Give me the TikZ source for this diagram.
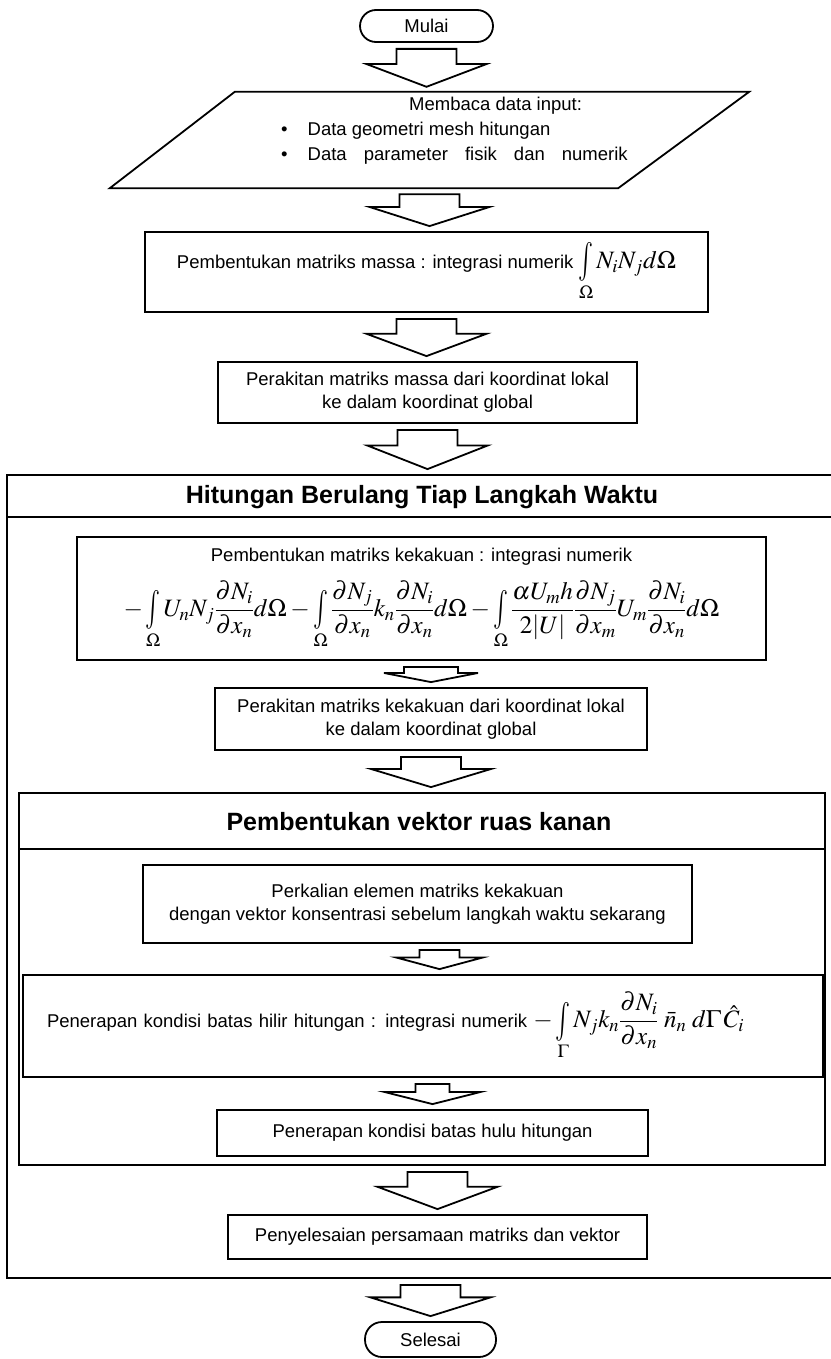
\documentclass[tikz,border=0pt]{standalone}
\usepackage{amsmath}
\usepackage{graphicx}
\usepackage{mathptmx}
\usepackage[no-math]{fontspec}
\setmainfont{Liberation Sans}
\usepackage{tikz}
\usetikzlibrary{calc}

\newcommand{\teks}{\fontsize{18.5}{23}\selectfont}
\newcommand{\judul}{\fontsize{25}{30}\selectfont\bfseries}
\newcommand{\rumus}{\fontsize{25}{30}\selectfont}
% integral ramping dengan batas di bawah
\newcommand{\intg}{\mathop{\vcenter{\hbox{\scalebox{1}[1.55]{$\int$}}}}\limits}

\tikzset{
  kotak/.style={draw,line width=1.8pt,align=center,font=\teks,inner sep=0pt},
  ujung/.style={kotak,rounded corners=16pt},
  bingkai/.style={draw,line width=1.8pt,inner sep=0pt},
  blok/.style={draw,line width=1.8pt,fill=white,line join=miter},
}

% panah blok: #1 dari, #2 ke, #3 setengah lebar batang, #4 setengah lebar kepala
\newcommand{\panah}[4]{%
  \draw[blok] let \p1=(#1), \p2=(#2) in
    (\x1-#3pt,\y1-6pt) -- (\x1+#3pt,\y1-6pt) -- (\x1+#3pt,{0.6*(\y1)+0.4*(\y2)-1.6pt})
    -- (\x1+#4pt,{0.6*(\y1)+0.4*(\y2)-1.6pt}) -- (\x1,\y2+5pt)
    -- (\x1-#4pt,{0.6*(\y1)+0.4*(\y2)-1.6pt}) -- (\x1-#3pt,{0.6*(\y1)+0.4*(\y2)-1.6pt}) -- cycle;}

\begin{document}
\begin{tikzpicture}[x=1pt,y=-1pt]
	\useasboundingbox (0,0) rectangle (830,1359);
	\fill[white] (0,0) rectangle (830,1359);
	
	\node[ujung,minimum width=133pt,minimum height=32pt] (mulai) at (426.5,26) {Mulai};
	
	% jajaran genjang input
	\node[inner sep=0pt,minimum width=639pt,minimum height=96pt] (baca) at (429.5,140) {};
	\draw[line width=1.8pt] ([xshift=125pt]baca.north west) -- (baca.north east)
	  -- ([xshift=-131pt]baca.south east) -- (baca.south west) -- cycle;
	\node[font={\fontsize{18.5}{25}\selectfont},align=left,anchor=west,inner sep=0pt] (isibaca) at (281,131)
	  {\hspace*{128pt}Membaca data input:\\
	   \textbullet\hspace{20pt}Data geometri mesh hitungan\\
	   \textbullet\hspace{20pt}\makebox[320pt][s]{Data parameter fisik dan numerik}};
	
	\node[kotak,minimum width=563pt,minimum height=80pt] (massa) at (426.5,272)
	  {Pembentukan matriks massa : integrasi numerik \rumus$\intg_{\Omega} N_i N_j d\Omega$};
	
	\node[kotak,minimum width=419pt,minimum height=61pt] (pm) at (427.5,392.5)
	  {Perakitan matriks massa dari koordinat lokal\\ke dalam koordinat global};
	
	% hitungan berulang
	\node[bingkai,minimum width=838pt,minimum height=803pt] (luar) at (426,876.5) {};
	\draw[line width=1.8pt] ([yshift=-43pt]luar.north west) -- ([yshift=-43pt]luar.north east);
	\node[font=\judul] (judul1) at (422,497) {Hitungan Berulang Tiap Langkah Waktu};
	
	\node[kotak,minimum width=689pt,minimum height=123pt] (kk) at (421.5,598.5)
	  {Pembentukan matriks kekakuan : integrasi numerik\\[14pt]
	   \rumus$\displaystyle -\intg_\Omega U_n N_j \frac{\partial N_i}{\partial x_n} d\Omega
	   - \intg_\Omega \frac{\partial N_j}{\partial x_n} k_n \frac{\partial N_i}{\partial x_n} d\Omega
	   - \intg_\Omega \frac{\alpha U_m h}{2|U|} \frac{\partial N_j}{\partial x_m} U_m \frac{\partial N_i}{\partial x_n} d\Omega$};
	
	\node[kotak,minimum width=432pt,minimum height=62pt] (pk) at (431,719)
	  {Perakitan matriks kekakuan dari koordinat lokal\\ke dalam koordinat global};
	
	% vektor ruas kanan
	\node[bingkai,minimum width=806pt,minimum height=372pt] (vektor) at (422,979) {};
	\draw[line width=1.8pt] ([yshift=-57pt]vektor.north west) -- ([yshift=-57pt]vektor.north east);
	\node[font=\judul] (judul2) at (419,821.5) {Pembentukan vektor ruas kanan};
	
	\node[kotak,minimum width=549pt,minimum height=78pt] (kali) at (417.5,904)
	  {Perkalian elemen matriks kekakuan\\dengan vektor konsentrasi sebelum langkah waktu sekarang};
	
	\node[kotak,minimum width=800pt,minimum height=102pt,text width=752pt,align=left] (hilir) at (423,1026)
	  {Penerapan kondisi batas hilir hitungan : integrasi numerik \rumus$\displaystyle -\intg_\Gamma N_j k_n \frac{\partial N_i}{\partial x_n}\; \bar{n}_n \; d\Gamma\, \hat{C}_i$};
	
	\node[kotak,minimum width=431pt,minimum height=46pt] (hulu) at (432.5,1133) {Penerapan kondisi batas hulu hitungan};
	
	\node[kotak,minimum width=419pt,minimum height=44pt] (selesaian) at (437.5,1237) {Penyelesaian persamaan matriks dan vektor};
	
	\node[ujung,minimum width=131pt,minimum height=35pt,rounded corners=17pt] (selesai) at (430.5,1339.5) {Selesai};
	
	% panah
	\panah{mulai.south}{baca.north}{30}{60}
	\panah{baca.south}{massa.north}{30}{60}
	\panah{massa.south}{pm.north}{30}{60}
	\panah{pm.south}{luar.north}{30}{60}
	\panah{kk.south -| pk}{pk.north}{27}{47}
	\panah{pk.south}{vektor.north}{30}{60}
	\panah{[xshift=22pt]kali.south}{hilir.north}{20}{43}
	\panah{hilir.south -| hulu}{hulu.north}{17}{48}
	\panah{vektor.south -| selesaian}{selesaian.north}{30}{60}
	\panah{luar.south -| selesai}{selesai.north}{30}{60}
\end{tikzpicture}
\end{document}
